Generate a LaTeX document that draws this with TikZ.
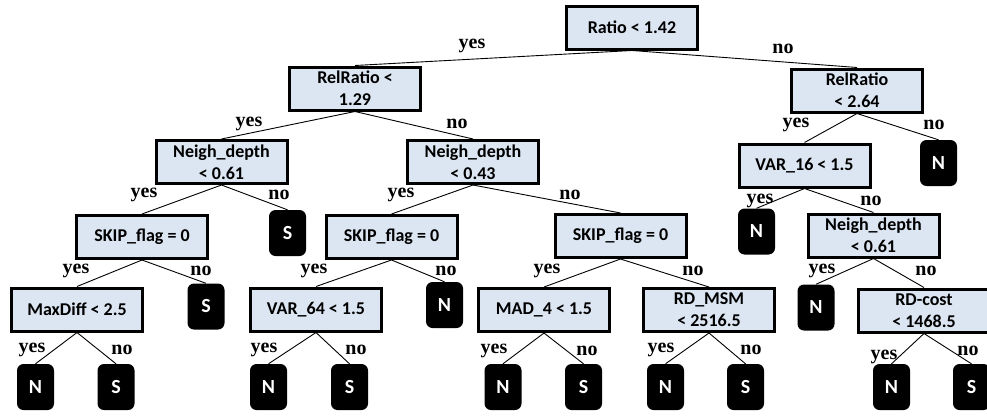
\documentclass[tikz,border=0pt]{standalone}
\usepackage{fontspec}
\setmainfont{Liberation Serif}
\newfontfamily\calib{Carlito}
\definecolor{boxblue}{RGB}{220,230,242}
\begin{document}
\begin{tikzpicture}[x=1pt,y=-1pt,
  testbox/.style={draw=black,line width=3pt,fill=boxblue,minimum width=131pt,minimum height=43pt,
    inner sep=1pt,align=center,font=\calib\bfseries\fontsize{18}{22}\selectfont},
  leaf/.style={fill=black,rounded corners=6.5pt,minimum width=37pt,minimum height=46pt,inner sep=0pt,
    text=white,font=\calib\bfseries\fontsize{20}{24}\selectfont},
  lab/.style={inner sep=0pt,font=\bfseries\fontsize{20}{24}\selectfont},
  edge/.style={draw=black,line width=0.9pt}]
\useasboundingbox (0,0) rectangle (987,415);
\clip (0,0) rectangle (987,415);
% test nodes
\node[testbox] (r) at (632,27.5) {Ratio < 1.42};
\node[testbox] (a) at (355,88.5) {RelRatio <\\1.29};
\node[testbox] (b) at (857,90.5) {RelRatio\\< 2.64};
\node[testbox] (c) at (221.5,162) {Neigh\_depth\\< 0.61};
\node[testbox] (d) at (473,162) {Neigh\_depth\\< 0.43};
\node[testbox] (e) at (804.5,165.5) {VAR\_16 < 1.5};
\node[testbox] (g) at (142,237) {SKIP\_flag = 0};
\node[testbox] (h) at (391.5,237) {SKIP\_flag = 0};
\node[testbox] (i) at (620.5,236) {SKIP\_flag = 0};
\node[testbox] (j) at (873.5,235.5) {Neigh\_depth\\< 0.61};
\node[testbox] (k) at (77,309.5) {MaxDiff < 2.5};
\node[testbox] (l) at (316,309.5) {VAR\_64 < 1.5};
\node[testbox] (m) at (544,310) {MAD\_4 < 1.5};
\node[testbox] (n) at (709,310) {RD\_MSM\\< 2516.5};
\node[testbox] (o) at (924,310.5) {RD-cost\\< 1468.5};
% leaves
\node[leaf] (lb) at (938.5,163) {N};
\node[leaf] (lc) at (287.5,233) {S};
\node[leaf] (le) at (756.5,231.5) {N};
\node[leaf] (lg) at (206,306.5) {S};
\node[leaf] (lh) at (444.5,305) {N};
\node[leaf] (lj) at (816,307.5) {N};
\node[leaf] (k1) at (35.5,387) {N};
\node[leaf] (k2) at (116,387) {S};
\node[leaf] (l1) at (268.5,387) {N};
\node[leaf] (l2) at (349.5,387) {S};
\node[leaf] (m1) at (503,387) {N};
\node[leaf] (m2) at (583.5,387) {S};
\node[leaf] (n1) at (665.5,387) {N};
\node[leaf] (n2) at (745.5,387) {S};
\node[leaf] (o1) at (891.5,387) {N};
\node[leaf] (o2) at (971.5,387) {S};
% edges
\foreach \p/\q in {r/a,r/b,a/c,a/d,b/e,b/lb,c/g,c/lc,d/h,d/i,e/le,e/j,g/k,g/lg,h/l,h/lh,i/m,i/n,j/lj,j/o,
  k/k1,k/k2,l/l1,l/l2,m/m1,m/m2,n/n1,n/n2,o/o1,o/o2}
  \draw[edge] (\p.south) -- (\q.north);
% labels
\node[lab] (y1) at (472,46) {yes};
\node[lab] (n1l) at (783,49) {no};
\node[lab] (y2) at (249,124) {yes};
\node[lab] (n2l) at (457,124) {no};
\node[lab] (y3) at (796,125) {yes};
\node[lab] (n3l) at (934,125) {no};
\node[lab] (y4) at (144,195) {yes};
\node[lab] (n4l) at (279,195) {no};
\node[lab] (y5) at (401,195) {yes};
\node[lab] (n5l) at (570,195) {no};
\node[lab] (y6) at (760,201) {yes};
\node[lab] (n6l) at (871,201) {no};
\node[lab] (y7) at (76,271) {yes};
\node[lab] (n7l) at (201,271) {no};
\node[lab] (y8) at (314,271) {yes};
\node[lab] (n8l) at (446,271) {no};
\node[lab] (y9) at (547,271) {yes};
\node[lab] (n9l) at (693,271) {no};
\node[lab] (y10) at (822,271) {yes};
\node[lab] (n10l) at (926,271) {no};
\node[lab] (y11) at (32,350) {yes};
\node[lab] (n11l) at (122,350) {no};
\node[lab] (y12) at (264,350) {yes};
\node[lab] (n12l) at (356,350) {no};
\node[lab] (y13) at (494,351) {yes};
\node[lab] (n13l) at (587,351) {no};
\node[lab] (y14) at (661,350) {yes};
\node[lab] (n14l) at (751,350) {no};
\node[lab] (y15) at (884,357) {yes};
\node[lab] (n15l) at (968,351) {no};
\end{tikzpicture}
\end{document}
